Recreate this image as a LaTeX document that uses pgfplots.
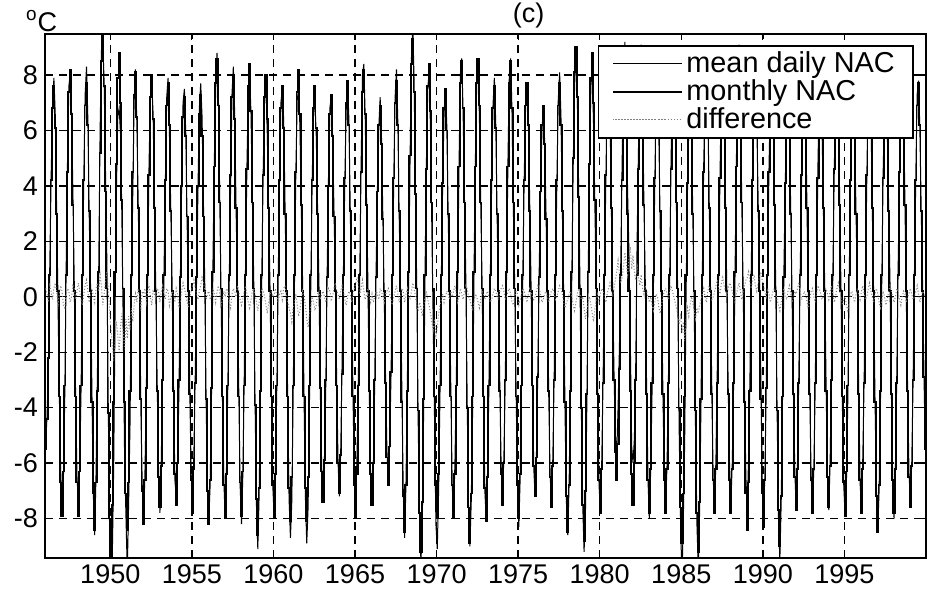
\documentclass[border=0pt]{standalone}
\usepackage{fontspec}
\setmainfont{Liberation Sans}
\usepackage{pgfplots}
\usepackage{pgfplotstable}
\pgfplotsset{compat=1.18}
% monthly NAC (m) and difference (d), Jan 1946 ... Dec 1999, one year per line
\pgfplotstableread[row sep=\\]{
m d\\
-5.5 0.3\\ -4.4 0.1\\ -2.2 -0.2\\ 0.8 0.4\\ 4.2 0.2\\ 6.8 -0.1\\ 7.6 0.3\\ 6.1 0.5\\ 3.0 0.2\\ 0.2 -0.3\\ -3.6 0.1\\ -6.7 0.4\\
-7.9 0.2\\ -6.3 -0.3\\ -3.2 -0.4\\ 0.8 0.1\\ 4.5 0.3\\ 7.4 0.2\\ 8.2 -0.2\\ 6.6 0.0\\ 3.3 0.4\\ 0.2 0.3\\ -3.6 -0.1\\ -6.7 0.2\\
-7.9 0.5\\ -6.3 0.2\\ -3.2 -0.1\\ 0.8 -0.3\\ 4.2 0.1\\ 6.9 0.4\\ 7.7 0.6\\ 6.2 0.2\\ 3.1 -0.2\\ 0.2 0.1\\ -3.8 0.3\\ -7.1 0.0\\
-8.4 -0.2\\ -6.7 0.3\\ -3.4 0.5\\ 0.9 0.2\\ 5.2 0.8\\ 8.5 0.4\\ 9.45 -0.3\\ 7.6 0.1\\ 3.8 0.6\\ 0.3 0.9\\ -4.2 0.3\\ -8.0 -0.5\\
-9.4 -1.2\\ -7.5 -1.8\\ -3.8 -2.3\\ 0.9 -1.5\\ 4.8 -0.9\\ 7.9 -1.4\\ 8.8 -2.0\\ 7.0 -1.1\\ 3.5 -0.6\\ 0.3 -1.3\\ -3.8 -1.9\\ -7.1 -0.8\\
-8.4 -1.5\\ -6.7 -0.7\\ -3.4 -1.2\\ 0.8 -0.4\\ 4.5 -0.9\\ 7.3 -0.3\\ 8.1 0.1\\ 6.5 -0.2\\ 3.2 0.3\\ 0.2 0.0\\ -3.7 -0.4\\ -7.0 0.2\\
-8.2 0.1\\ -6.6 0.3\\ -3.3 -0.2\\ 0.8 0.2\\ 4.4 0.4\\ 7.2 0.0\\ 8.0 -0.3\\ 6.4 0.2\\ 3.2 0.1\\ 0.2 -0.1\\ -3.4 0.3\\ -6.5 0.2\\
-7.6 -0.2\\ -6.1 0.2\\ -3.0 0.4\\ 0.8 0.1\\ 4.2 -0.1\\ 6.9 0.3\\ 7.7 0.2\\ 6.2 -0.3\\ 3.1 0.0\\ 0.2 0.2\\ -3.4 0.1\\ -6.4 -0.2\\
-7.5 0.3\\ -6.0 0.1\\ -3.0 -0.4\\ 0.7 -0.2\\ 4.0 0.2\\ 6.5 0.5\\ 7.2 0.3\\ 5.8 0.1\\ 2.9 -0.2\\ 0.2 -0.4\\ -3.5 0.0\\ -6.6 0.2\\
-7.8 0.4\\ -6.2 0.6\\ -3.1 0.3\\ 0.7 0.1\\ 4.0 -0.1\\ 6.6 0.2\\ 7.3 0.4\\ 5.8 0.7\\ 2.9 0.5\\ 0.2 0.2\\ -3.7 -0.1\\ -7.0 0.1\\
-8.2 0.2\\ -6.6 -0.1\\ -3.3 0.0\\ 0.9 0.3\\ 4.7 0.1\\ 7.7 -0.2\\ 8.6 0.2\\ 6.9 0.4\\ 3.4 0.1\\ 0.3 -0.3\\ -3.6 -0.1\\ -6.8 0.2\\
-8.0 0.0\\ -6.4 0.3\\ -3.2 0.2\\ 0.8 -0.2\\ 4.4 -0.4\\ 7.2 0.1\\ 8.0 0.3\\ 6.4 0.2\\ 3.2 0.0\\ 0.2 0.4\\ -3.6 0.2\\ -6.7 -0.1\\
-7.9 -0.3\\ -6.3 -0.1\\ -3.2 0.2\\ 0.8 0.4\\ 4.6 0.1\\ 7.6 -0.2\\ 8.4 -0.4\\ 6.7 -0.1\\ 3.4 0.2\\ 0.3 0.3\\ -3.9 0.1\\ -7.3 -0.2\\
-8.6 -0.5\\ -6.9 -0.2\\ -3.4 0.1\\ 0.8 0.3\\ 4.4 0.2\\ 7.2 0.0\\ 8.0 -0.3\\ 6.4 -0.6\\ 3.2 -0.2\\ 0.2 0.1\\ -3.6 0.2\\ -6.8 0.0\\
-8.0 0.1\\ -6.4 0.3\\ -3.2 0.0\\ 0.8 -0.2\\ 4.2 0.1\\ 6.8 0.2\\ 7.6 -0.1\\ 6.1 0.3\\ 3.0 0.4\\ 0.2 0.1\\ -3.6 -0.2\\ -6.9 -0.4\\
-8.1 -0.6\\ -6.5 -0.9\\ -3.2 -0.4\\ 0.8 -0.2\\ 4.5 0.1\\ 7.4 -0.3\\ 8.2 -0.7\\ 6.6 -0.5\\ 3.3 -0.1\\ 0.2 0.2\\ -3.6 0.0\\ -6.9 -0.3\\
-8.1 -0.8\\ -6.5 -1.1\\ -3.2 -0.6\\ 0.8 -0.3\\ 4.2 0.0\\ 6.8 -0.2\\ 7.6 -0.5\\ 6.1 -0.3\\ 3.0 0.1\\ 0.2 0.2\\ -3.3 -0.1\\ -6.3 0.1\\
-7.4 0.2\\ -5.9 0.0\\ -3.0 -0.2\\ 0.7 0.1\\ 4.0 0.3\\ 6.6 0.2\\ 7.3 -0.1\\ 5.8 0.0\\ 2.9 0.3\\ 0.2 0.5\\ -3.2 0.2\\ -6.0 0.1\\
-7.1 -0.1\\ -5.7 0.2\\ -2.8 0.4\\ 0.8 0.2\\ 4.3 -0.1\\ 7.0 -0.3\\ 7.8 0.0\\ 6.2 0.2\\ 3.1 0.1\\ 0.2 -0.2\\ -3.6 0.1\\ -6.8 0.3\\
-8.0 0.5\\ -6.4 0.7\\ -3.2 0.4\\ 0.8 0.1\\ 4.5 0.3\\ 7.4 0.6\\ 8.2 0.2\\ 6.6 -0.1\\ 3.3 0.1\\ 0.2 0.3\\ -3.4 0.0\\ -6.4 -0.2\\
-7.5 0.1\\ -6.0 -0.2\\ -3.0 0.0\\ 0.7 0.2\\ 3.8 0.1\\ 6.2 -0.1\\ 6.9 0.3\\ 5.5 0.2\\ 2.8 0.0\\ 0.2 -0.2\\ -3.1 0.1\\ -5.8 0.2\\
-6.8 0.3\\ -5.4 0.1\\ -2.7 -0.1\\ 0.8 -0.3\\ 4.3 0.0\\ 7.0 0.2\\ 7.8 0.4\\ 6.2 0.1\\ 3.1 -0.2\\ 0.2 0.0\\ -3.8 0.3\\ -7.2 0.2\\
-8.5 -0.2\\ -6.8 0.1\\ -3.4 0.3\\ 0.9 0.0\\ 5.1 -0.1\\ 8.4 0.2\\ 9.3 0.5\\ 7.4 0.3\\ 3.7 0.0\\ 0.3 -0.3\\ -4.1 -0.5\\ -7.8 -0.2\\
-9.2 -0.4\\ -7.4 -0.7\\ -3.7 -0.3\\ 0.8 0.0\\ 4.6 0.2\\ 7.6 -0.1\\ 8.4 -0.3\\ 6.7 -0.6\\ 3.4 -0.9\\ 0.3 -1.2\\ -3.6 -0.8\\ -6.8 -1.4\\
-8.0 -1.1\\ -6.4 -0.6\\ -3.2 -0.3\\ 0.8 -0.1\\ 4.1 0.1\\ 6.8 -0.2\\ 7.5 0.0\\ 6.0 0.2\\ 3.0 0.1\\ 0.2 -0.1\\ -3.6 0.2\\ -6.8 0.0\\
-8.0 0.2\\ -6.4 0.4\\ -3.2 0.1\\ 0.9 -0.2\\ 4.7 0.0\\ 7.7 0.3\\ 8.5 0.1\\ 6.8 -0.1\\ 3.4 0.2\\ 0.3 0.4\\ -4.0 0.3\\ -7.6 0.0\\
-8.9 -0.1\\ -7.1 -0.3\\ -3.6 -0.5\\ 0.9 -0.2\\ 4.7 0.1\\ 7.7 0.0\\ 8.6 -0.2\\ 6.9 -0.4\\ 3.4 -0.1\\ 0.3 0.2\\ -3.6 0.1\\ -6.9 -0.1\\
-8.1 0.1\\ -6.5 0.2\\ -3.2 0.0\\ 0.8 -0.2\\ 4.2 -0.1\\ 6.8 0.1\\ 7.6 0.3\\ 6.1 0.2\\ 3.0 0.0\\ 0.2 -0.1\\ -3.4 0.2\\ -6.4 0.3\\
-7.5 0.4\\ -6.0 0.2\\ -3.0 -0.1\\ 0.9 0.0\\ 4.7 0.2\\ 7.7 0.3\\ 8.5 0.1\\ 6.8 -0.2\\ 3.4 -0.3\\ 0.3 0.0\\ -3.6 0.2\\ -6.8 0.1\\
-8.0 -0.3\\ -6.4 -0.1\\ -3.2 0.1\\ 0.8 0.3\\ 4.2 0.2\\ 6.9 0.0\\ 7.7 -0.2\\ 6.2 0.1\\ 3.1 0.3\\ 0.2 0.2\\ -3.2 0.0\\ -6.1 -0.1\\
-7.2 0.0\\ -5.8 0.2\\ -2.9 0.4\\ 0.7 0.3\\ 3.8 0.1\\ 6.2 -0.2\\ 6.9 -0.1\\ 5.5 0.1\\ 2.8 0.2\\ 0.2 0.0\\ -3.4 -0.2\\ -6.5 0.1\\
-7.6 0.2\\ -6.1 0.3\\ -3.0 0.1\\ 0.8 -0.1\\ 4.2 0.0\\ 6.9 0.2\\ 7.7 0.4\\ 6.2 0.3\\ 3.1 0.1\\ 0.2 -0.2\\ -3.8 -0.4\\ -7.2 -0.2\\
-8.5 -0.1\\ -6.8 0.1\\ -3.4 0.2\\ 0.9 0.0\\ 5.0 -0.3\\ 8.1 -0.5\\ 9.0 -0.2\\ 7.2 0.1\\ 3.6 0.3\\ 0.3 0.1\\ -4.0 -0.1\\ -7.5 0.0\\
-8.8 -0.4\\ -7.0 -0.8\\ -3.5 -0.5\\ 0.9 -0.2\\ 4.8 0.0\\ 7.9 -0.3\\ 8.8 -0.6\\ 7.0 -0.9\\ 3.5 -0.4\\ 0.3 -0.1\\ -3.5 0.1\\ -6.6 -0.2\\
-7.8 0.1\\ -6.2 0.3\\ -3.1 0.2\\ 0.8 0.0\\ 4.4 -0.2\\ 7.2 0.1\\ 8.0 0.3\\ 6.4 0.5\\ 3.2 0.2\\ 0.2 0.0\\ -3.0 0.3\\ -5.6 0.6\\
-6.6 0.9\\ -5.3 1.3\\ -2.6 0.8\\ 0.8 0.5\\ 4.2 0.7\\ 6.8 1.1\\ 7.6 1.6\\ 6.1 1.2\\ 3.0 0.8\\ 0.2 1.4\\ -3.4 1.8\\ -6.4 1.0\\
-7.5 1.5\\ -6.0 0.9\\ -3.0 0.6\\ 0.8 1.2\\ 4.6 0.7\\ 7.5 0.4\\ 8.3 0.8\\ 6.6 0.3\\ 3.3 0.1\\ 0.2 0.4\\ -3.5 0.2\\ -6.6 0.0\\
-7.8 -0.2\\ -6.2 0.0\\ -3.1 -0.3\\ 0.8 -0.5\\ 4.3 -0.2\\ 7.0 0.1\\ 7.8 0.0\\ 6.2 -0.4\\ 3.1 -0.6\\ 0.2 -0.3\\ -3.5 0.0\\ -6.6 0.2\\
-7.8 0.3\\ -6.2 0.1\\ -3.1 -0.1\\ 0.8 0.2\\ 4.6 0.4\\ 7.6 0.2\\ 8.4 0.0\\ 6.7 -0.2\\ 3.4 -0.4\\ 0.3 -0.7\\ -4.0 -1.0\\ -7.6 -0.6\\
-8.9 -1.3\\ -7.1 -0.9\\ -3.6 -1.6\\ 0.8 -0.8\\ 4.1 -0.4\\ 6.8 -0.7\\ 7.5 -0.3\\ 6.0 0.0\\ 3.0 -0.2\\ 0.2 -0.5\\ -4.1 -0.8\\ -7.8 -0.4\\
-9.2 -0.6\\ -7.4 -0.3\\ -3.7 -0.1\\ 0.8 0.1\\ 4.5 0.3\\ 7.3 0.0\\ 8.1 -0.2\\ 6.5 0.2\\ 3.2 0.4\\ 0.2 0.1\\ -3.5 -0.1\\ -6.6 0.0\\
-7.8 0.2\\ -6.2 0.4\\ -3.1 0.6\\ 0.8 0.3\\ 4.3 0.1\\ 7.1 0.5\\ 7.9 0.7\\ 6.3 0.4\\ 3.2 0.2\\ 0.2 0.0\\ -3.5 0.3\\ -6.6 0.5\\
-7.8 0.4\\ -6.2 0.2\\ -3.1 0.0\\ 0.9 -0.2\\ 4.7 0.1\\ 7.7 0.3\\ 8.6 0.5\\ 6.9 0.2\\ 3.4 -0.1\\ 0.3 0.1\\ -3.8 0.4\\ -7.1 0.6\\
-8.4 0.7\\ -6.7 0.9\\ -3.4 0.5\\ 0.8 0.3\\ 4.2 0.6\\ 6.9 0.8\\ 7.7 0.4\\ 6.2 0.2\\ 3.1 0.5\\ 0.2 0.7\\ -3.7 0.9\\ -7.1 0.6\\
-8.3 0.4\\ -6.6 0.2\\ -3.3 0.0\\ 0.8 0.3\\ 4.5 0.1\\ 7.4 -0.2\\ 8.2 0.0\\ 6.6 0.2\\ 3.3 0.3\\ 0.2 0.1\\ -4.1 -0.1\\ -7.7 -0.3\\
-9.0 -0.5\\ -7.2 -0.2\\ -3.6 0.1\\ 0.7 0.3\\ 4.1 0.0\\ 6.7 -0.1\\ 7.4 0.2\\ 5.9 0.4\\ 3.0 0.1\\ 0.2 -0.2\\ -3.5 0.0\\ -6.5 0.2\\
-7.7 0.1\\ -6.2 0.3\\ -3.1 0.5\\ 0.8 0.2\\ 4.4 -0.1\\ 7.2 0.0\\ 8.0 0.2\\ 6.4 0.1\\ 3.2 -0.2\\ 0.2 -0.4\\ -3.5 -0.1\\ -6.6 0.2\\
-7.8 0.3\\ -6.2 0.0\\ -3.1 -0.2\\ 0.8 0.1\\ 4.3 0.4\\ 7.1 0.3\\ 7.9 0.1\\ 6.3 -0.1\\ 3.2 0.0\\ 0.2 0.2\\ -3.4 0.3\\ -6.5 0.1\\
-7.6 -0.1\\ -6.1 0.2\\ -3.0 0.4\\ 0.8 0.1\\ 4.6 -0.2\\ 7.5 0.0\\ 8.3 0.3\\ 6.6 0.5\\ 3.3 0.2\\ 0.2 0.0\\ -3.6 -0.3\\ -6.7 -0.1\\
-7.9 0.0\\ -6.3 -0.3\\ -3.2 -0.5\\ 0.8 -0.2\\ 4.2 0.1\\ 6.8 0.2\\ 7.6 0.0\\ 6.1 -0.2\\ 3.0 0.1\\ 0.2 0.3\\ -3.5 0.1\\ -6.6 -0.1\\
-7.8 0.2\\ -6.2 0.4\\ -3.1 0.1\\ 0.8 -0.1\\ 4.4 0.0\\ 7.2 0.3\\ 8.0 0.5\\ 6.4 0.2\\ 3.2 0.0\\ 0.2 -0.2\\ -3.8 0.1\\ -7.2 0.3\\
-8.5 0.1\\ -6.8 -0.2\\ -3.4 -0.4\\ 0.8 -0.1\\ 4.3 0.2\\ 7.0 0.0\\ 7.8 -0.3\\ 6.2 -0.1\\ 3.1 0.2\\ 0.2 0.4\\ -3.5 0.2\\ -6.6 0.0\\
-7.8 -0.2\\ -6.2 0.0\\ -3.1 0.3\\ 0.8 0.2\\ 4.5 -0.1\\ 7.4 -0.3\\ 8.2 0.0\\ 6.6 0.2\\ 3.3 0.1\\ 0.2 -0.2\\ -3.4 0.0\\ -6.5 0.1\\
-7.6 0.3\\ -6.1 0.1\\ -3.0 -0.1\\ 0.8 0.0\\ 4.2 0.2\\ 6.9 0.4\\ 7.7 0.1\\ 6.2 -0.2\\ 3.1 0.0\\ 0.2 0.2\\ -2.9 0.1\\ -5.5 0.0\\
}\nacdata

\begin{document}
\begin{tikzpicture}
\begin{axis}[
  scale only axis, width=440pt, height=261.5pt,
  xmin=1946, xmax=2000, ymin=-9.41, ymax=9.48,
  xtick={1950,1955,...,1995}, ytick={-8,-6,...,8},
  /pgf/number format/assume math mode=true,
  xticklabel style={/pgf/number format/1000 sep={}},
  tick label style={font=\fontsize{13.5}{13.5}\selectfont},
  grid=major,
  major grid style={black, line width=0.7pt, dash pattern=on 4pt off 3pt},
  tick align=inside, major tick length=3pt,
  axis line style={line width=0.9pt},
  every tick/.style={black, line width=0.6pt},
  clip mode=individual,
  legend style={at={(rel axis cs:0.986,0.979)}, anchor=north east,
    font=\fontsize{14.4}{14.4}\selectfont, draw=black, line width=0.9pt, fill=white,
    inner xsep=7pt, inner ysep=1pt, row sep=-2pt},
  legend cell align=left,
  legend image code/.code={\draw[#1] (0pt,0pt) -- (25pt,0pt); \path (-1pt,0pt) -- (33pt,0pt);},
]
\addplot[black, line width=0.5pt] table[x expr=1946+(\coordindex+0.5)/12, y expr=\thisrow{m}+\thisrow{d}] {\nacdata};
\addlegendentry{mean daily NAC}
\addplot[black, line width=0.9pt, const plot mark mid] table[x expr=1946+(\coordindex+0.5)/12, y=m] {\nacdata};
\addlegendentry{monthly NAC}
\addplot[gray, line width=0.5pt, densely dotted] table[x expr=1946+(\coordindex+0.5)/12, y=d] {\nacdata};
\addlegendentry{difference}
\coordinate (sw) at (rel axis cs:0,0);
\coordinate (ne) at (rel axis cs:1,1);
\node[anchor=south, inner sep=0pt, font=\fontsize{13.5}{13.5}\selectfont, yshift=3pt] at (rel axis cs:0.549,1) {(c)};
\node[anchor=south, inner sep=0pt, font=\fontsize{13.5}{13.5}\selectfont, yshift=1pt] at (rel axis cs:-0.004,1) {\textsuperscript{o}C};
\end{axis}
\pgfresetboundingbox
\path ([xshift=-22.5pt,yshift=-18pt]sw) rectangle ([xshift=1.5pt,yshift=17pt]ne);
\end{tikzpicture}
\end{document}
